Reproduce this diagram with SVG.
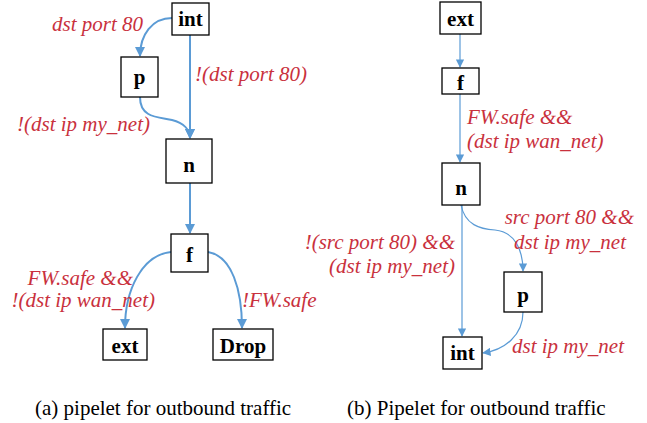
<svg xmlns="http://www.w3.org/2000/svg" width="647" height="423" viewBox="0 0 647 423" font-family="Liberation Serif">
<style>
.box{fill:#fff;stroke:#000;stroke-width:1.3}
.nl{font-family:'Liberation Serif',serif;font-weight:bold;font-size:21px;fill:#000;text-anchor:middle}
.el{font-family:'Liberation Serif',serif;font-style:italic;font-size:21px;fill:#C9313D}
.cap{font-family:'Liberation Serif',serif;font-size:21px;fill:#000}
.ea{fill:none;stroke:#5B9BD5;stroke-width:2}
.eb{fill:none;stroke:#5B9BD5;stroke-width:1.2}
</style>
<defs>
<marker id="ah" viewBox="0 0 10 10" refX="9" refY="5" markerWidth="5" markerHeight="5" orient="auto" markerUnits="strokeWidth">
<path d="M0,0 L10,5 L0,10 z" fill="#5B9BD5"/>
</marker>
<marker id="ahb" viewBox="0 0 10 10" refX="9" refY="5" markerWidth="7" markerHeight="7" orient="auto" markerUnits="strokeWidth">
<path d="M0,0 L10,5 L0,10 z" fill="#5B9BD5"/>
</marker>
</defs>
<g id="connectors">
<path class="ea" marker-end="url(#ah)" d="M172,18 C152,18 140,35 140,56"/>
<path class="ea" marker-end="url(#ah)" d="M190,35 L190,138"/>
<path class="ea" marker-end="url(#ah)" d="M140,97 C140,118 158,117 172,120 C184,123 190,130 190,138"/>
<path class="ea" marker-end="url(#ah)" d="M190,183 L190,233"/>
<path class="ea" marker-end="url(#ah)" d="M171,252 C142,255 125,290 125,328"/>
<path class="ea" marker-end="url(#ah)" d="M208,252 C232,256 242,290 242,328"/>
<path class="eb" marker-end="url(#ahb)" d="M460,34 L460,67"/>
<path class="eb" marker-end="url(#ahb)" d="M460,94 L460,162"/>
<path class="eb" marker-end="url(#ahb)" d="M462,205 L462,336"/>
<path class="eb" marker-end="url(#ahb)" d="M461,205 C465,225 480,229 495,230 C515,232 523,250 523,271"/>
<path class="eb" marker-end="url(#ahb)" d="M523,312 C523,335 505,350 483,353"/>
</g>
<g id="a-int"><rect class="box" x="172" y="3" width="37" height="32"/><text class="nl" x="190.5" y="26">int</text></g>
<g id="a-p"><rect class="box" x="121" y="57" width="37" height="40"/><text class="nl" x="139.5" y="84">p</text></g>
<g id="a-n"><rect class="box" x="166" y="139" width="46" height="44"/><text class="nl" x="189" y="172">n</text></g>
<g id="a-f"><rect class="box" x="171" y="234" width="37" height="38"/><text class="nl" x="189.5" y="262">f</text></g>
<g id="a-ext"><rect class="box" x="103" y="329" width="44" height="31"/><text class="nl" x="125" y="353">ext</text></g>
<g id="a-drop"><rect class="box" x="213" y="329" width="60" height="31"/><text class="nl" x="243" y="353">Drop</text></g>
<g id="b-ext"><rect class="box" x="440" y="2" width="41" height="32"/><text class="nl" x="460.5" y="26">ext</text></g>
<g id="b-f"><rect class="box" x="442" y="68" width="37" height="26"/><text class="nl" x="460.5" y="90">f</text></g>
<g id="b-n"><rect class="box" x="442" y="163" width="38" height="42"/><text class="nl" x="461" y="195">n</text></g>
<g id="b-p"><rect class="box" x="504" y="272" width="38" height="40"/><text class="nl" x="523" y="302">p</text></g>
<g id="b-int"><rect class="box" x="443" y="337" width="39" height="32"/><text class="nl" x="462.5" y="360">int</text></g>
<g id="labels">
<text class="el" x="52" y="31">dst port 80</text>
<text class="el" x="195" y="81">!(dst port 80)</text>
<text class="el" x="17" y="131">!(dst ip my_net)</text>
<text class="el" x="133" y="285" text-anchor="end">FW.safe &amp;&amp;</text>
<text class="el" x="155" y="307" text-anchor="end">!(dst ip wan_net)</text>
<text class="el" x="242" y="307">!FW.safe</text>
<text class="el" x="467" y="124">FW.safe &amp;&amp;</text>
<text class="el" x="467" y="148">(dst ip wan_net)</text>
<text class="el" x="634" y="224" text-anchor="end">src port 80 &amp;&amp;</text>
<text class="el" x="626" y="249" text-anchor="end">dst ip my_net</text>
<text class="el" x="455" y="249" text-anchor="end">!(src port 80) &amp;&amp;</text>
<text class="el" x="455" y="273" text-anchor="end">(dst ip my_net)</text>
<text class="el" x="512" y="353">dst ip my_net</text>
</g>
<g id="captions">
<text class="cap" x="35" y="415">(a) pipelet for outbound traffic</text>
<text class="cap" x="347" y="415">(b) Pipelet for outbound traffic</text>
</g>
</svg>
